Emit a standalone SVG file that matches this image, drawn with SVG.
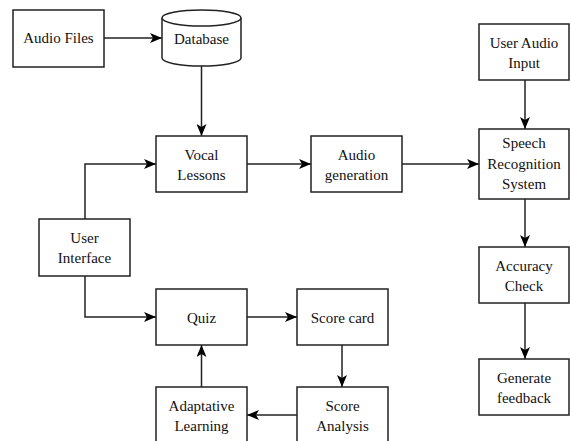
<svg xmlns="http://www.w3.org/2000/svg" width="570" height="441" viewBox="0 0 570 441">
<style>
.b{fill:#fff;stroke:#222;stroke-width:1.5}
.c{fill:none;stroke:#222;stroke-width:1.5}
text{font-family:"Liberation Serif",Tinos,"Times New Roman",Times,"Noto Serif","DejaVu Serif",serif;font-size:15px;fill:#111;text-anchor:middle}
</style>
<defs>
<marker id="a" viewBox="0 0 12 10" refX="12" refY="5" markerWidth="12" markerHeight="10" markerUnits="userSpaceOnUse" orient="auto">
<path d="M0,0 L12,5 L0,10 L3,5 Z" fill="#000"/>
</marker>
</defs>
<rect width="570" height="441" fill="#fff"/>
<g id="connectors">
<path class="c" d="M104,38 H162" marker-end="url(#a)"/>
<path class="c" d="M201.5,66 V136" marker-end="url(#a)"/>
<path class="c" d="M85,219 V164 H156" marker-end="url(#a)"/>
<path class="c" d="M247,164 H311" marker-end="url(#a)"/>
<path class="c" d="M402,164 H479" marker-end="url(#a)"/>
<path class="c" d="M525,80 V129" marker-end="url(#a)"/>
<path class="c" d="M525,199 V247" marker-end="url(#a)"/>
<path class="c" d="M525,303 V359" marker-end="url(#a)"/>
<path class="c" d="M85,276 V317 H156" marker-end="url(#a)"/>
<path class="c" d="M247,317 H297" marker-end="url(#a)"/>
<path class="c" d="M342,345 V387" marker-end="url(#a)"/>
<path class="c" d="M297,415 H247" marker-end="url(#a)"/>
<path class="c" d="M201.5,387 V345" marker-end="url(#a)"/>
</g>
<g id="audio-files"><rect class="b" x="13" y="10" width="91" height="57"/><text x="58.5" y="43">Audio Files</text></g>
<g id="database">
<path class="b" d="M162,18 A39.5,8 0 0 1 241,18 V58 A39.5,8 0 0 1 162,58 Z"/>
<path class="c" d="M162,18 A39.5,8 0 0 0 241,18"/>
<text x="201.5" y="44">Database</text>
</g>
<g id="vocal-lessons"><rect class="b" x="156" y="136" width="91" height="56"/><text x="201.5" y="160">Vocal</text><text x="201.5" y="180">Lessons</text></g>
<g id="audio-generation"><rect class="b" x="311" y="136" width="91" height="56"/><text x="356.5" y="160">Audio</text><text x="356.5" y="180">generation</text></g>
<g id="user-audio-input"><rect class="b" x="479" y="24" width="90" height="56"/><text x="524" y="48">User Audio</text><text x="524" y="68">Input</text></g>
<g id="speech-recognition"><rect class="b" x="479" y="129" width="90" height="70"/><text x="524" y="148">Speech</text><text x="524" y="169">Recognition</text><text x="524" y="189">System</text></g>
<g id="accuracy-check"><rect class="b" x="479" y="247" width="90" height="56"/><text x="524" y="271">Accuracy</text><text x="524" y="291">Check</text></g>
<g id="generate-feedback"><rect class="b" x="479" y="359" width="90" height="56"/><text x="524" y="383">Generate</text><text x="524" y="403">feedback</text></g>
<g id="user-interface"><rect class="b" x="39" y="219" width="91" height="57"/><text x="84.5" y="243">User</text><text x="84.5" y="263">Interface</text></g>
<g id="quiz"><rect class="b" x="156" y="289" width="91" height="56"/><text x="201.5" y="323">Quiz</text></g>
<g id="score-card"><rect class="b" x="297" y="289" width="91" height="56"/><text x="342.5" y="323">Score card</text></g>
<g id="score-analysis"><rect class="b" x="297" y="387" width="91" height="58"/><text x="342.5" y="411">Score</text><text x="342.5" y="431">Analysis</text></g>
<g id="adaptative-learning"><rect class="b" x="156" y="387" width="91" height="58"/><text x="201.5" y="411">Adaptative</text><text x="201.5" y="431">Learning</text></g>
</svg>
